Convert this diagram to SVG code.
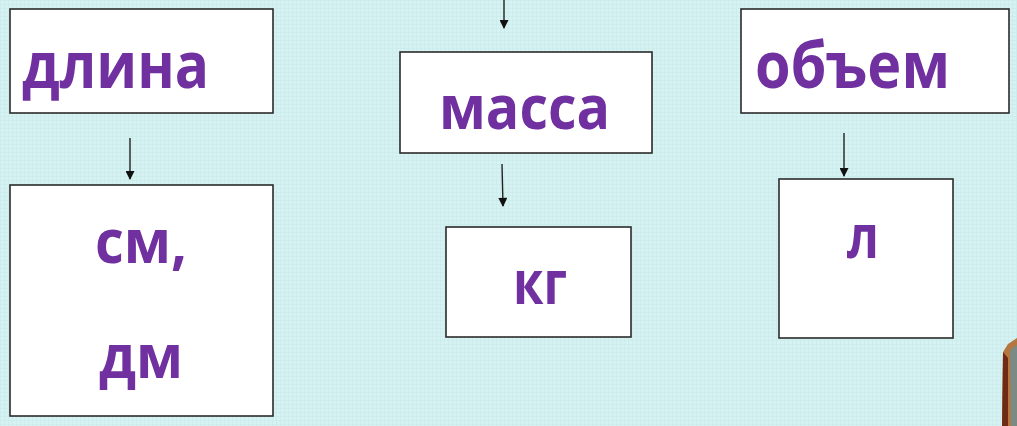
<svg xmlns="http://www.w3.org/2000/svg" width="1017" height="426" viewBox="0 0 1017 426">
  <style>
    .box { fill: #ffffff; stroke: #2b2b2b; stroke-width: 1.6; }
    .lbl { font-family: "Open Sans", "Noto Sans", "Liberation Sans", sans-serif; font-weight: bold; fill: #7030a0; }
    .conn { stroke: #222222; stroke-width: 1.4; fill: none; marker-end: url(#arr); }
  </style>
  <defs>
    <marker id="arr" viewBox="0 0 10 10" refX="9" refY="5" markerWidth="10" markerHeight="9" markerUnits="userSpaceOnUse" orient="auto">
      <path d="M0,0 L10,5 L0,10 Z" fill="#111111"/>
    </marker>
    <pattern id="tex" width="4" height="4" patternUnits="userSpaceOnUse">
      <rect width="4" height="4" fill="#d6f2f2"/>
      <path d="M0,0.5 H4 M0.5,0 V4" stroke="#cdecec" stroke-width="1"/>
    </pattern>
  </defs>
  <rect width="1017" height="426" fill="url(#tex)"/>

  <g id="decor">
    <path d="M1017,338 L1008,344 L1003,352 L1002,426 L1017,426 Z" fill="#b5773f"/>
    <path d="M1003,352 L1002,426 L1008,426 L1008,358 Z" fill="#6e2a14"/>
    <path d="M1010,350 L1017,345 L1017,426 L1011,426 Z" fill="#7c8a86"/>
  </g>

  <g id="connectors">
    <line class="conn" x1="504" y1="0" x2="504" y2="28"/>
    <line class="conn" x1="130" y1="138" x2="130" y2="179"/>
    <line class="conn" x1="502" y1="164" x2="503" y2="206"/>
    <line class="conn" x1="844" y1="133" x2="844" y2="176"/>
  </g>

  <g id="node-length">
    <rect class="box" x="10" y="9" width="263" height="104"/>
    <text class="lbl" x="22" y="88" font-size="64" textLength="187" lengthAdjust="spacingAndGlyphs">длина</text>
  </g>
  <g id="node-length-units">
    <rect class="box" x="10" y="185" width="263" height="231"/>
    <text class="lbl" x="95" y="263" font-size="61" textLength="92" lengthAdjust="spacingAndGlyphs">см,</text>
    <text class="lbl" x="99" y="378" font-size="61" textLength="84" lengthAdjust="spacingAndGlyphs">дм</text>
  </g>
  <g id="node-mass">
    <rect class="box" x="400" y="52" width="252" height="101"/>
    <text class="lbl" x="439" y="129" font-size="61" textLength="171" lengthAdjust="spacingAndGlyphs">масса</text>
  </g>
  <g id="node-mass-units">
    <rect class="box" x="446" y="227" width="185" height="110"/>
    <text class="lbl" x="513" y="304" font-size="61" textLength="54" lengthAdjust="spacingAndGlyphs">кг</text>
  </g>
  <g id="node-volume">
    <rect class="box" x="741" y="9" width="268" height="104"/>
    <text class="lbl" x="755" y="88" font-size="64" textLength="195" lengthAdjust="spacingAndGlyphs">объем</text>
  </g>
  <g id="node-volume-units">
    <rect class="box" x="779" y="179" width="174" height="159"/>
    <text class="lbl" x="847" y="258" font-size="61" textLength="32" lengthAdjust="spacingAndGlyphs">л</text>
  </g>
</svg>
